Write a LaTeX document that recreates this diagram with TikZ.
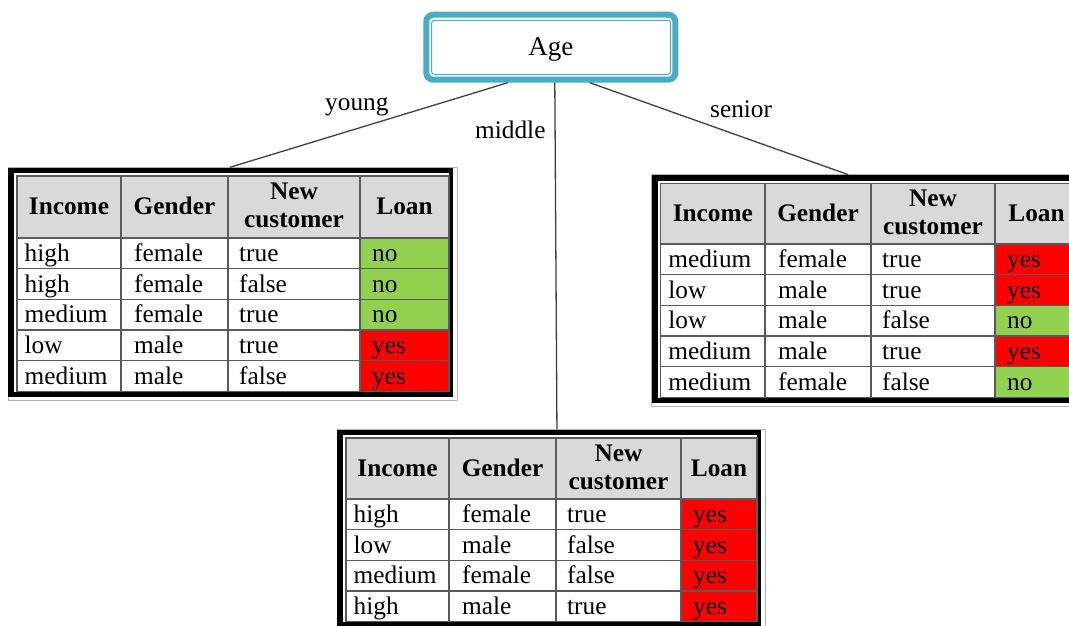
\documentclass[tikz,border=0pt]{standalone}
\usepackage{fontspec}
\setmainfont{Liberation Serif}
\usetikzlibrary{calc}

\definecolor{agebord}{HTML}{4BACC6}
\definecolor{hdrgray}{HTML}{D9D9D9}
\definecolor{gridgray}{HTML}{5A5A5A}
\definecolor{edgegray}{HTML}{404040}
\definecolor{loanno}{HTML}{92D050}
\definecolor{loanyes}{HTML}{FF0000}

\tikzset{
  txt/.style={inner sep=0pt, font=\fontsize{25.3}{28}\selectfont},
  cell/.style={txt, anchor=base west},
  hcell/.style={txt, anchor=base, font=\fontsize{25.3}{28}\selectfont\bfseries},
  hcelltwo/.style={txt, anchor=center, align=center, font=\fontsize{25.3}{28}\selectfont\bfseries},
  gridline/.style={draw=gridgray, line width=1.3pt},
  tframe/.style={draw=gray!60, line width=0.8pt, inner sep=0pt, outer sep=0pt, anchor=north west},
  agebox/.style={draw=agebord, line width=6pt, rounded corners=7pt, fill=white,
    minimum width=249pt, minimum height=65pt, inner sep=0pt,
    text height=18.4pt, text depth=2pt,
    font=\fontsize{27}{30}\selectfont},
  branch/.style={draw=edgegray, line width=1.3pt},
  lbl/.style={txt, anchor=base west},
}

% column edges a/b/c/d/e
\def\setcols#1/#2/#3/#4/#5\relax{%
  \def\colA{#1}\def\colB{#2}\def\colC{#3}\def\colD{#4}\def\colE{#5}}

% #1 name, #2 column edges, #3 grid top, #4 header bottom, #5 number of rows, #6 rows
\newcommand\loantable[6]{%
  \setcols#2\relax
  \pgfmathsetmacro\yb{#4+30.7*#5}%
  \pgfmathsetmacro\fw{\colE-\colA+17.5}%
  \pgfmathsetmacro\fh{\yb-#3+17.2}%
  \node[tframe, minimum width=\fw pt, minimum height=\fh pt] (#1) at (\colA-9,#3-8.7) {};
  \fill[black] (\colA-8.6,#3-8.3) rectangle (\colE+4.2,\yb+5);
  \fill[white] (\colA-3,#3-2.6) rectangle (\colE,\yb);
  \fill[hdrgray] (\colA,#3) rectangle (\colE,#4);
  \foreach \inc/\gen/\nc/\lo [count=\i] in {#6} {
    \pgfmathsetmacro\yt{#4+30.7*(\i-1)}
    \fill[fill=loan\lo] (\colD,\yt) rectangle (\colE,\yt+30.7);
  }
  \draw[gridline] (\colA,#3) rectangle (\colE,\yb);
  \foreach \x in {\colB,\colC,\colD} {\draw[gridline] (\x,#3) -- (\x,\yb);}
  \foreach \i in {1,...,#5} {
    \pgfmathsetmacro\yt{#4+30.7*(\i-1)}
    \draw[gridline] (\colA,\yt) -- (\colE,\yt);
  }
  \pgfmathsetmacro\hy{#3+38.5}%
  \node[hcell] (#1-income) at ({(\colA+\colB)/2},\hy) {Income};
  \node[hcell] (#1-gender) at ({(\colB+\colC)/2},\hy) {Gender};
  \node[hcelltwo] (#1-newcust) at ({(\colC+\colD)/2},#3+29.5) {New\\customer};
  \node[hcell] (#1-loan) at ({(\colD+\colE)/2},\hy) {Loan};
  \foreach \inc/\gen/\nc/\lo [count=\i] in {#6} {
    \pgfmathsetmacro\yt{#4+30.7*(\i-1)+23.5}
    \node[cell] (#1-\i-inc) at (\colA+7.5,\yt) {\inc};
    \node[cell] (#1-\i-gen) at (\colB+13,\yt) {\gen};
    \node[cell] (#1-\i-new) at (\colC+11,\yt) {\nc};
    \node[cell] (#1-\i-loan) at (\colD+12,\yt) {\lo};
  }
}

\begin{document}
\begin{tikzpicture}[x=1pt,y=-1pt]
\useasboundingbox (0,0) rectangle (1069,625);
\clip (0,0) rectangle (1069,625);
\fill[white] (0,0) rectangle (1069,625);

% root of the tree
\node[agebox] (age) at (550.8,47.2) {Age};
\draw[agebord, line width=1pt, rounded corners=3pt]
  ([shift={(8.3,8.6)}]age.north west) rectangle ([shift={(-7.8,-8.2)}]age.south east);

% subsets per age group
\loantable{young}{17/121/228/360/449}{176}{238}{5}{%
  high/female/true/no,
  high/female/false/no,
  medium/female/true/no,
  low/male/true/yes,
  medium/male/false/yes}

\loantable{middle}{346/449/556/681/757}{438}{499}{4}{%
  high/female/true/yes,
  low/male/false/yes,
  medium/female/false/yes,
  high/male/true/yes}

\loantable{senior}{660.7/765/871/995/1078}{183.3}{244}{5}{%
  medium/female/true/yes,
  low/male/true/yes,
  low/male/false/no,
  medium/male/true/yes,
  medium/female/false/no}

% branches
\draw[branch] ([xshift=-43pt]age.south) -- ([xshift=-2.9pt]young.north);
\draw[branch] ([xshift=4pt]age.south) -- ([xshift=5.7pt]middle.north);
\draw[branch] ([xshift=39pt]age.south) -- ([xshift=-21pt]senior.north);

\node[lbl] (lyoung) at (325,110.5) {young};
\node[lbl] (lmiddle) at (475,138) {middle};
\node[lbl] (lsenior) at (710,117) {senior};
\end{tikzpicture}
\end{document}
